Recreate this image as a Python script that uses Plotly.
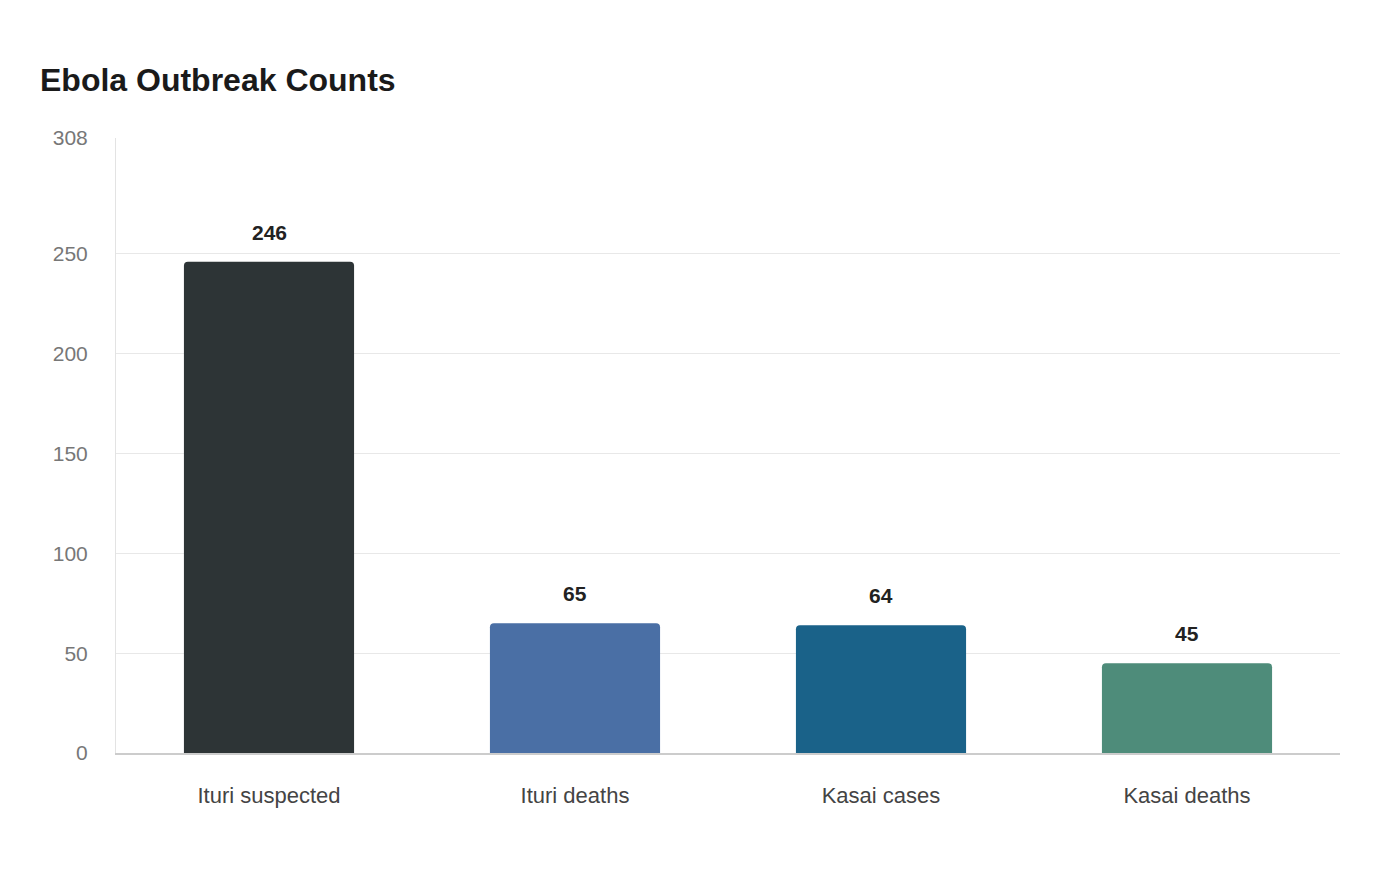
import plotly.graph_objects as go

categories = ["Ituri suspected", "Ituri deaths", "Kasai cases", "Kasai deaths"]
values = [246, 65, 64, 45]
colors = ["#2d3436", "#4a6fa5", "#1a6289", "#4e8c7a"]
y_ticks = [0, 50, 100, 150, 200, 250, 308]

FONT = "Liberation Sans, Arial, sans-serif"

fig = go.Figure()
fig.add_trace(go.Bar(
    x=categories, y=values,
    marker=dict(color=colors, cornerradius=4, line=dict(width=0)),
    hoverinfo="x+y",
))

for c, v in zip(categories, values):
    fig.add_annotation(x=c, y=v, text=f"<b>{v}</b>", showarrow=False,
                       yanchor="bottom", yshift=16,
                       font=dict(size=21, color="#222222", family=FONT))

# page body has an 8px margin; compensate so the plot lands where the reference has it
fig.update_layout(
    width=1400, height=880,
    paper_bgcolor="white", plot_bgcolor="white",
    font=dict(family=FONT),
    title=dict(text="<b>Ebola Outbreak Counts</b>", x=32/1400, xanchor="left",
               y=1-72/880, yanchor="middle",
               font=dict(size=32, color="#1a1a1a")),
    margin=dict(l=108, r=68, t=130, b=135),
    bargap=0.444,
    showlegend=False,
    xaxis=dict(showgrid=False, showline=True, linecolor="#cccccc", linewidth=1.5,
               ticks="", tickfont=dict(size=22, color="#444444"),
               ticklabelstandoff=22),
    yaxis=dict(range=[0, 308], tickvals=y_ticks, showgrid=True, gridcolor="#e8e8e8",
               gridwidth=1, zeroline=False, showline=True, linecolor="#e3e3e3",
               linewidth=1, ticks="", tickfont=dict(size=21, color="#777777"),
               ticklabelstandoff=23),
)

fig.write_html("out.html")
